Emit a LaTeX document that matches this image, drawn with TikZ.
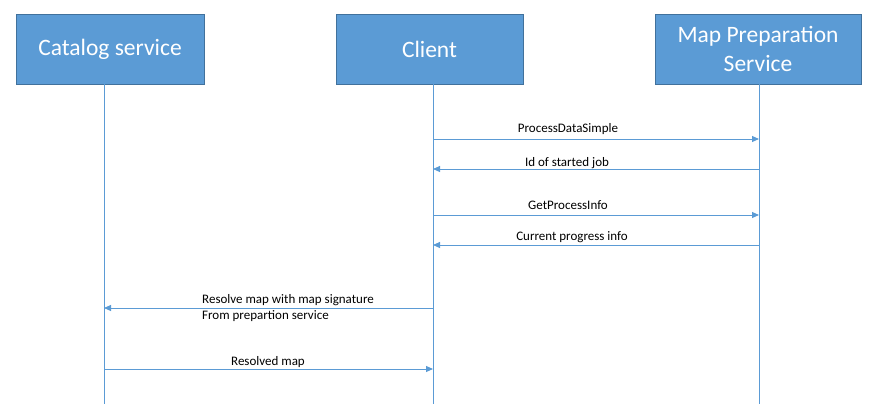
\documentclass[tikz,border=0pt]{standalone}
\usepackage{fontspec}
\setmainfont{Carlito}
\usetikzlibrary{arrows.meta}
\definecolor{boxfill}{HTML}{5B9BD5}
\definecolor{boxline}{HTML}{41719C}
\definecolor{lineblue}{HTML}{5B9BD5}
\begin{document}
\begin{tikzpicture}[x=1pt,y=-1pt,
  actor/.style={draw=boxline,fill=boxfill,line width=0.8pt,text=white,
    font=\fontsize{23.5}{29}\selectfont,align=center,inner sep=0pt},
  lifeline/.style={draw=lineblue,line width=0.9pt},
  msg/.style={draw=lineblue,line width=0.9pt,-{Triangle[width=6pt,length=7pt]}},
  lbl/.style={font=\fontsize{13}{16}\selectfont,text=black,inner sep=0pt}]
\useasboundingbox (0,0) rectangle (885,404);
\node[actor,minimum width=188pt,minimum height=70pt] (cat) at (110,49) {Catalog service};
\node[actor,minimum width=187pt,minimum height=70pt] (cli) at (429.5,49) {Client};
\node[actor,minimum width=206pt,minimum height=70pt] (map) at (758,49) {Map Preparation\\Service};
\coordinate (catb) at (104,404);
\coordinate (clib) at (433,404);
\coordinate (mapb) at (759,404);
\draw[lifeline] (104,84) -- (catb);
\draw[lifeline] (433,84) -- (clib);
\draw[lifeline] (759,84) -- (mapb);
% message anchor points
\coordinate (m1a) at (433,139); \coordinate (m1b) at (759,139);
\coordinate (m2a) at (759,169); \coordinate (m2b) at (433,169);
\coordinate (m3a) at (433,215); \coordinate (m3b) at (759,215);
\coordinate (m4a) at (759,245); \coordinate (m4b) at (433,245);
\coordinate (m5a) at (433,308); \coordinate (m5b) at (104,308);
\coordinate (m6a) at (104,369); \coordinate (m6b) at (433,369);
\draw[msg] (m1a) -- (m1b);
\draw[msg] (m2a) -- (m2b);
\draw[msg] (m3a) -- (m3b);
\draw[msg] (m4a) -- (m4b);
\draw[msg] (m5a) -- (m5b);
\draw[msg] (m6a) -- (m6b);
\node[lbl] (l1) at (568,129) {ProcessDataSimple};
\node[lbl] (l2) at (567,163) {Id of started job};
\node[lbl] (l3) at (568,205) {GetProcessInfo};
\node[lbl] (l4) at (572,237) {Current progress info};
\node[lbl,anchor=west] (l5) at (202,300) {Resolve map with map signature};
\node[lbl,anchor=west] (l6) at (202,316) {From prepartion service};
\node[lbl] (l7) at (268,362) {Resolved map};
\end{tikzpicture}
\end{document}
